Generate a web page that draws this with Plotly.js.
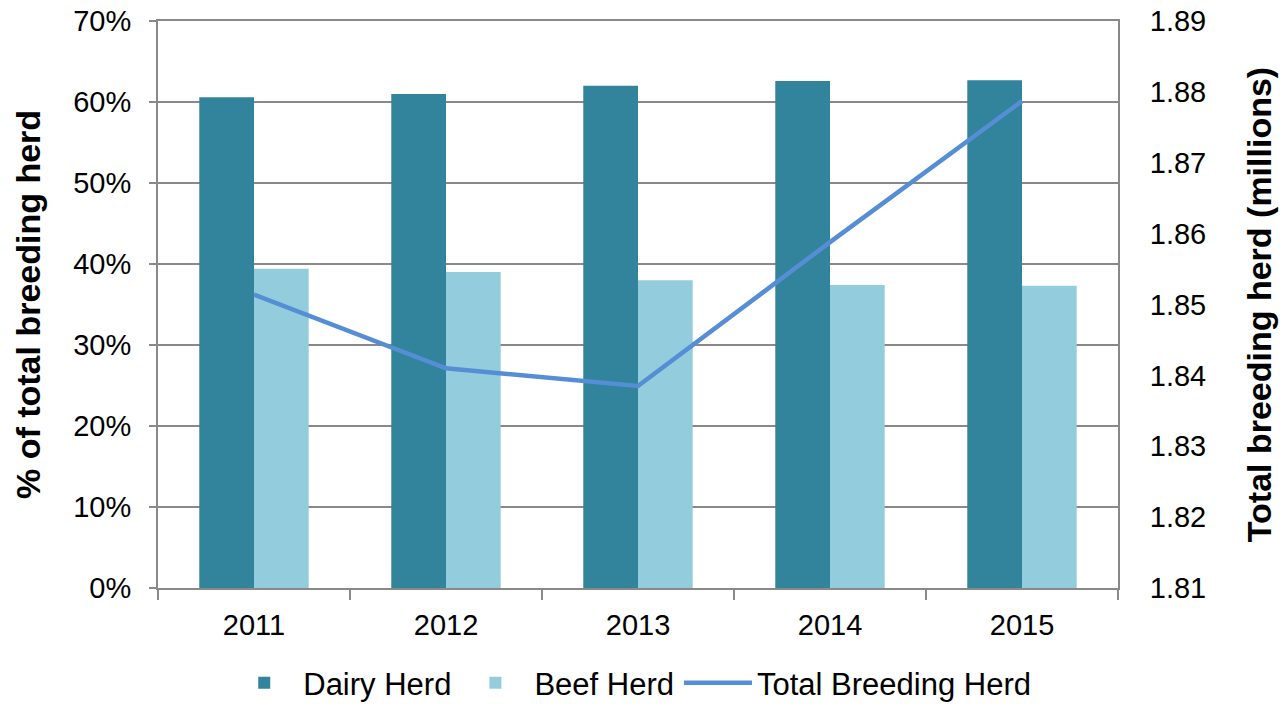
<!DOCTYPE html>
<html>
<head>
<meta charset="utf-8">
<script src="https://cdn.plot.ly/plotly-3.0.1.min.js"></script>
<style>
html,body{margin:0;padding:0;background:#fff;}
#chart{width:1282px;height:705px;}
</style>
</head>
<body>
<div id="chart"></div>
<script>
const years = ['2011', '2012', '2013', '2014', '2015'];
const dairyShare = [0.606, 0.610, 0.620, 0.626, 0.627];
const beefShare = [0.394, 0.390, 0.380, 0.374, 0.373];
const totalHerd = [1.8514, 1.8410, 1.8385, 1.8588, 1.8787];

const seriesNames = ['Dairy Herd', 'Beef Herd', 'Total Breeding Herd'];
const leftTicks = [0, 0.1, 0.2, 0.3, 0.4, 0.5, 0.6, 0.7];
const rightTicks = [1.81, 1.82, 1.83, 1.84, 1.85, 1.86, 1.87, 1.88, 1.89];
const rightRange = [1.81, 1.89];

const FONT = 'Liberation Sans, Arial, sans-serif';
const GRID = '#898989';

const traces = [
  {type: 'bar', name: seriesNames[0], x: years, y: dairyShare,
   marker: {color: '#31849b'}, yaxis: 'y'},
  {type: 'bar', name: seriesNames[1], x: years, y: beefShare,
   marker: {color: '#93cddd'}, yaxis: 'y'},
  {type: 'scatter', mode: 'lines', name: seriesNames[2], x: years, y: totalHerd,
   line: {color: '#558ed5', width: 4.5}, yaxis: 'y2'}
];

const layout = {
  width: 1282, height: 705,
  margin: {l: 158, r: 164, t: 21, b: 117, autoexpand: false},
  paper_bgcolor: '#fff', plot_bgcolor: '#fff',
  font: {family: FONT, size: 29, color: '#000'},
  barmode: 'group',
  bargap: 0.43,
  bargroupgap: 0,
  showlegend: true,
  legend: {orientation: 'h', x: 0.492, xanchor: 'center', xref: 'container',
           y: 0.031, yanchor: 'middle', yref: 'container',
           font: {size: 31, family: FONT}, traceorder: 'normal', itemwidth: 68},
  xaxis: {
    type: 'category', tickson: 'boundaries', ticks: 'outside', ticklen: 10,
    tickcolor: GRID, tickwidth: 1.5, showline: true, linecolor: GRID, linewidth: 2,
    mirror: true, showgrid: false, ticklabelstandoff: 10,
    tickfont: {size: 29, family: FONT}, automargin: false
  },
  yaxis: {
    range: [0, 0.7], tickvals: leftTicks, tickformat: '.0%',
    ticks: 'outside', ticklen: 7, tickcolor: GRID, tickwidth: 1.5,
    showline: true, linecolor: GRID, linewidth: 2, ticklabelstandoff: 12,
    showgrid: true, gridcolor: GRID, gridwidth: 2, zeroline: false,
    tickfont: {size: 29, family: FONT}, automargin: false,
    title: {text: '<b>% of total breeding herd</b>', font: {size: 34, family: FONT}, standoff: 22}
  },
  yaxis2: {
    range: rightRange, tickvals: rightTicks, tickformat: '.2f',
    overlaying: 'y', side: 'right',
    ticks: 'outside', ticklen: 24, tickcolor: 'rgba(0,0,0,0)', tickwidth: 1,
    showline: true, linecolor: GRID, linewidth: 2,
    showgrid: false, zeroline: false,
    tickfont: {size: 29, family: FONT}, automargin: false,
    title: {text: '<b>Total breeding herd (millions)</b>', font: {size: 34, family: FONT}, standoff: 42}
  },
  yaxis3: {
    range: rightRange, tickvals: rightTicks,
    overlaying: 'y', side: 'right', showticklabels: false,
    ticks: 'outside', ticklen: 7, tickcolor: GRID, tickwidth: 1.5,
    showline: false, showgrid: false, zeroline: false, automargin: false
  }
};

Plotly.newPlot('chart', traces, layout, {displayModeBar: false, staticPlot: true});
</script>
</body>
</html>
